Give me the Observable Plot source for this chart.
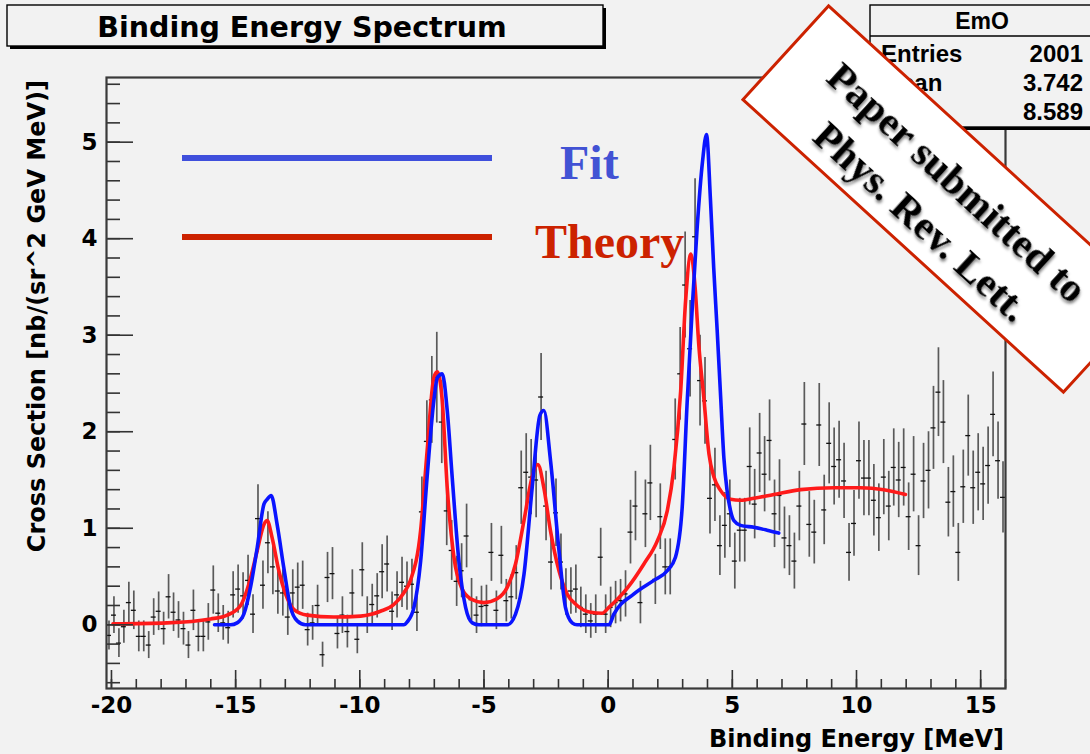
<!DOCTYPE html>
<html><head><meta charset="utf-8">
<script src="https://cdn.jsdelivr.net/npm/d3@7"></script>
<script src="https://cdn.jsdelivr.net/npm/@observablehq/plot@0.6"></script>
<style>
html,body{margin:0;padding:0;background:#f2f2f2;}
#chart{width:1090px;height:754px;position:relative;overflow:hidden;}
</style></head><body><div id="chart"></div>
<script>
// ---- data ----
const binLow = -20.2, binWidth = 0.2;
const counts = [
 -0.11,0.10,-0.19,-0.02,0.23,0.15,-0.12,-0.12,-0.21,0.08,
 0.14,-0.04,0.29,0.13,0.05,-0.04,-0.21,0.15,-0.12,-0.12,
 0.03,0.36,0.12,0.02,-0.03,0.31,0.37,0.30,0.46,0.11,
 1.10,0.41,0.85,0.60,0.35,0.33,0.08,0.33,0.39,0.41,
 -0.05,0.02,0.20,-0.31,0.49,0.53,-0.09,0.10,-0.07,0.33,
 -0.15,0.57,0.10,0.21,0.30,0.55,0.63,0.14,0.31,0.44,
 0.40,0.42,0.13,1.17,1.90,2.33,2.56,2.10,1.18,0.77,
 0.45,0.56,0.92,0.26,0.10,0.19,0.20,0.75,0.15,0.72,
 0.25,0.29,0.54,1.42,1.58,1.53,1.50,2.36,1.23,0.65,
 1.16,0.65,0.34,0.35,0.37,0.18,0.11,0.04,0.11,0.70,
 0.11,0.18,0.23,0.25,0.32,0.96,1.23,0.23,1.15,1.47,
 0.47,1.12,0.60,0.60,1.92,2.60,3.52,2.86,4.02,2.53,
 2.32,1.31,1.45,0.82,1.03,1.15,0.66,0.98,0.98,1.64,
 1.25,1.78,1.56,1.91,1.15,1.34,0.90,0.82,0.66,1.23,
 2.08,1.04,0.96,2.07,1.19,1.88,1.64,1.71,1.49,0.75,
 1.05,1.70,1.52,1.52,1.29,1.11,1.53,1.23,1.63,1.50,
 1.63,1.12,1.56,0.82,1.49,1.60,2.04,2.41,2.10,1.27,
 1.38,0.75,1.43,1.96,1.42,1.58,1.46,1.65,2.18,1.70,1.32
];
const errors = [
 0.15,0.19,0.15,0.17,0.21,0.20,0.16,0.16,0.14,0.19,
 0.20,0.17,0.23,0.20,0.19,0.17,0.14,0.21,0.16,0.16,
 0.19,0.25,0.20,0.18,0.17,0.24,0.25,0.24,0.26,0.20,
 0.35,0.25,0.32,0.29,0.24,0.24,0.19,0.24,0.25,0.25,
 0.17,0.18,0.21,0.13,0.26,0.27,0.16,0.19,0.17,0.24,
 0.15,0.28,0.19,0.21,0.23,0.28,0.29,0.20,0.24,0.26,
 0.25,0.26,0.20,0.36,0.42,0.45,0.47,0.43,0.36,0.31,
 0.26,0.28,0.33,0.22,0.19,0.21,0.21,0.30,0.20,0.30,
 0.22,0.23,0.28,0.38,0.40,0.39,0.39,0.45,0.36,0.29,
 0.35,0.29,0.24,0.24,0.25,0.21,0.20,0.18,0.20,0.30,
 0.20,0.21,0.22,0.22,0.24,0.33,0.36,0.22,0.35,0.39,
 0.26,0.34,0.29,0.29,0.42,0.48,0.55,0.50,0.60,0.47,
 0.45,0.37,0.38,0.31,0.34,0.35,0.29,0.33,0.33,0.40,
 0.36,0.41,0.39,0.42,0.35,0.37,0.32,0.31,0.29,0.36,
 0.43,0.34,0.33,0.43,0.36,0.42,0.40,0.40,0.39,0.30,
 0.34,0.40,0.39,0.39,0.37,0.35,0.39,0.36,0.40,0.39,
 0.40,0.35,0.39,0.31,0.39,0.40,0.43,0.46,0.43,0.36,
 0.37,0.30,0.38,0.42,0.38,0.40,0.38,0.40,0.44,0.40,0.37
];
const fitX = [-15.85,-15.2,-14.94,-14.67,-14.4,-14.13,-13.86,-13.73,-13.57,-13.33,-13.06,-12.79,-12.52,-12.19,
 -8.23,-8.09,-7.82,-7.55,-7.29,-7.02,-6.88,-6.68,-6.48,-6.28,-6.01,-5.74,-5.47,-5.2,
 -4.06,-3.73,-3.39,-3.06,-2.75,-2.59,-2.32,-1.98,-1.72,-1.45,-1.25,
 0.03,0.23,1.04,1.84,2.38,2.71,2.98,3.18,3.39,3.58,3.8,3.96,4.12,4.25,4.39,4.53,4.66,4.79,4.93,5.06,5.33,5.87,6.4,6.87];
const fitY = [0,0,0.02,0.11,0.39,0.8,1.25,1.3,1.34,1.04,0.59,0.18,0.04,0,
 0,0.03,0.18,0.66,1.53,2.32,2.56,2.6,2.22,1.53,0.66,0.18,0.02,0,
 0,0.11,0.52,1.42,2.17,2.22,1.7,0.77,0.18,0.02,0,
 0,0.11,0.32,0.46,0.56,0.7,1.21,2.3,3.3,4.1,4.8,5.08,4.4,3.7,3.05,2.36,1.73,1.39,1.18,1.08,1.03,1.01,0.98,0.95];
const theoryX = [-19.94,-17.76,-16.01,-15.34,-14.8,-14.47,-14.13,-13.86,-13.73,-13.53,
 -13.26,-12.99,-12.66,-12.12,-11.04,-9.97,-9.17,-8.63,-8.23,-7.96,
 -7.55,-7.29,-7.02,-6.88,-6.68,-6.48,-6.21,-5.88,-5.54,-5.0,
 -4.47,-4.06,-3.73,-3.39,-3.06,-2.83,-2.59,-2.32,-1.98,-1.65,
 -1.25,-0.71,-0.24,0.03,0.77,1.44,1.98,2.38,2.65,2.92,
 3.12,3.33,3.5,3.65,3.85,4.06,4.26,4.53,4.93,5.33,
 5.87,6.67,7.75,9.09,10.16,11.1,11.97];
const theoryY = [0.01,0.02,0.06,0.10,0.2,0.42,0.77,1.04,1.08,0.9,
 0.56,0.32,0.16,0.1,0.08,0.09,0.14,0.21,0.33,0.46,
 0.98,1.8,2.56,2.62,2.32,1.42,0.7,0.37,0.27,0.23,
 0.27,0.39,0.63,1.08,1.53,1.66,1.42,0.97,0.56,0.32,
 0.2,0.13,0.12,0.18,0.38,0.63,0.87,1.18,1.63,2.42,
 3.36,3.84,3.5,2.9,2.36,1.77,1.53,1.39,1.30,1.29,
 1.31,1.35,1.4,1.42,1.42,1.4,1.35];
const xTicks = [-20,-15,-10,-5,0,5,10,15];
const xMinorTicks = [-20,-19,-18,-17,-16,-15,-14,-13,-12,-11,-10,-9,-8,-7,-6,-5,-4,-3,-2,-1,0,1,2,3,4,5,6,7,8,9,10,11,12,13,14,15,16];
const yTicks = [0,1,2,3,4,5];
const yMinorTicks = [-0.6,-0.4,-0.2,0,0.2,0.4,0.6,0.8,1,1.2,1.4,1.6,1.8,2,2.2,2.4,2.6,2.8,3,3.2,3.4,3.6,3.8,4,4.2,4.4,4.6,4.8,5,5.2,5.4,5.6];
const titleText = "Binding Energy Spectrum";
const xTitle = "Binding Energy [MeV]";
const yTitle = "Cross Section [nb/(sr^2 GeV MeV)]";
const statsName = "EmO";
const statsRows = [["Entries","2001"],["Mean","3.742"],["RMS","8.589"]];
const legendItems = [["Fit","fit"],["Theory","theory"]];
const stampLines = ["Paper submitted to","Phys. Rev. Lett."];

// ---- build ----
const points = counts.map((v,i)=>({x: binLow + binWidth*(i+0.5), y: v, e: errors[i]}));
const fit = fitX.map((x,i)=>({x, y: fitY[i]}));
const theory = theoryX.map((x,i)=>({x, y: theoryY[i]}));

const W=1090, H=754, mL=106, mR=85, mT=77, mB=66;
const frameW = W-mL-mR, frameH = H-mT-mB;
const axisFont = "DejaVu Sans";

const plot = Plot.plot({
  width: W, height: H,
  marginLeft: mL, marginRight: mR, marginTop: mT, marginBottom: mB,
  style: {background: "transparent", fontFamily: axisFont, color: "#000"},
  x: {domain: [binLow, 16]},
  y: {domain: [-0.66, 5.67]},
  marks: [
    Plot.ruleX(points, {x: "x", y1: d=>d.y-d.e, y2: d=>d.y+d.e, stroke: "#5a5a5a", strokeWidth: 1.7}),
    Plot.ruleY(points, {y: "y", x1: d=>d.x-binWidth/2, x2: d=>d.x+binWidth/2, stroke: "#111", strokeWidth: 1.3}),
    Plot.line(theory, {x: "x", y: "y", stroke: "#ff1a1a", strokeWidth: 3.6, curve: "monotone-x"}),
    Plot.line(fit, {x: "x", y: "y", stroke: "#0a14ff", strokeWidth: 3.6, curve: "monotone-x"}),
    Plot.ruleX(xMinorTicks, {x: d=>d, insetTop: frameH-9, stroke: "#333", strokeWidth: 1.6}),
    Plot.ruleX(xTicks, {x: d=>d, insetTop: frameH-18, stroke: "#333", strokeWidth: 1.6}),
    Plot.ruleY(yMinorTicks, {y: d=>d, insetRight: frameW-14, stroke: "#333", strokeWidth: 1.6}),
    Plot.ruleY(yTicks, {y: d=>d, insetRight: frameW-27, stroke: "#333", strokeWidth: 1.6}),
    Plot.axisX(xTicks, {tickSize: 0, tickPadding: 8, fontSize: 23, fontWeight: "bold", tickFormat: d=>String(d), label: null}),
    Plot.axisY(yTicks, {tickSize: 0, tickPadding: 9, fontSize: 23, fontWeight: "bold", tickFormat: d=>String(d), label: null}),
    Plot.frame({stroke: "#3a3a3a", strokeWidth: 2.2})
  ]
});
document.getElementById("chart").appendChild(plot);

const svg = d3.select(plot);
const defs = svg.append("defs");
const f = defs.append("filter").attr("id","tshadow").attr("x","-20%").attr("y","-50%").attr("width","140%").attr("height","200%");
f.append("feDropShadow").attr("dx",2).attr("dy",2).attr("stdDeviation",1.6).attr("flood-color","#000").attr("flood-opacity",0.5);

// axis titles
svg.append("text").text(xTitle).attr("x", 1004).attr("y", 747)
  .attr("text-anchor","end").attr("font-family",axisFont).attr("font-weight","bold").attr("font-size",24);
svg.append("text").text(yTitle).attr("transform","translate(45,80) rotate(-90)")
  .attr("text-anchor","end").attr("font-family",axisFont).attr("font-weight","bold").attr("font-size",24);

// title box
const tb = svg.append("g");
tb.append("rect").attr("x",10).attr("y",8).attr("width",596).attr("height",41).attr("fill","#000");
tb.append("rect").attr("x",7).attr("y",5).attr("width",596).attr("height",41).attr("fill","#f2f2f2").attr("stroke","#000").attr("stroke-width",1.4);
tb.append("text").text(titleText).attr("x",302).attr("y",37).attr("text-anchor","middle")
  .attr("font-family",axisFont).attr("font-weight","bold").attr("font-size",28.5);

// stats box
const sb = svg.append("g");
sb.append("rect").attr("x",873).attr("y",8).attr("width",240).attr("height",122).attr("fill","#000");
sb.append("rect").attr("x",870).attr("y",5).attr("width",240).attr("height",122).attr("fill","#f2f2f2").attr("stroke","#000").attr("stroke-width",1.4);
sb.append("line").attr("x1",870).attr("x2",1110).attr("y1",36).attr("y2",36).attr("stroke","#000").attr("stroke-width",1.4);
sb.append("text").text(statsName).attr("x",982).attr("y",29).attr("text-anchor","middle")
  .attr("font-family","Liberation Sans").attr("font-weight","bold").attr("font-size",23);
statsRows.forEach((r,i)=>{
  const yb = 62 + i*29;
  sb.append("text").text(r[0]).attr("x",881).attr("y",yb).attr("text-anchor","start").attr("font-family","Liberation Sans").attr("font-weight","bold").attr("font-size",24);
  sb.append("text").text(r[1]).attr("x",1083).attr("y",yb).attr("text-anchor","end").attr("font-family","Liberation Sans").attr("font-weight","bold").attr("font-size",24);
});

// legend
const lg = svg.append("g");
const legendStyle = {fit: {line:"#3f4fdc", text:"#4252d4", y:158, tx:560}, theory: {line:"#cc2200", text:"#cc2200", y:237, tx:535}};
legendItems.forEach(([label,key])=>{
  const s = legendStyle[key];
  lg.append("line").attr("x1",182).attr("x2",492).attr("y1",s.y).attr("y2",s.y).attr("stroke",s.line).attr("stroke-width",6);
  lg.append("text").text(label).attr("x",s.tx).attr("y",s.y+21).attr("text-anchor","start").attr("fill",s.text)
    .attr("font-family","Liberation Serif").attr("font-weight","bold").attr("font-size",48);
});

// stamp
const st = svg.append("g").attr("transform","translate(946,199) rotate(42.4)");
st.append("rect").attr("x",-217).attr("y",-63.5).attr("width",434).attr("height",127).attr("fill","#fff").attr("stroke","#cc2200").attr("stroke-width",3);
stampLines.forEach((t,i)=>{
  st.append("text").text(t).attr("x",-3).attr("y",-6 + i*53).attr("text-anchor","middle")
    .attr("font-family","Liberation Serif").attr("font-weight","bold").attr("font-size",41)
    .attr("filter","url(#tshadow)");
});
</script></body></html>
